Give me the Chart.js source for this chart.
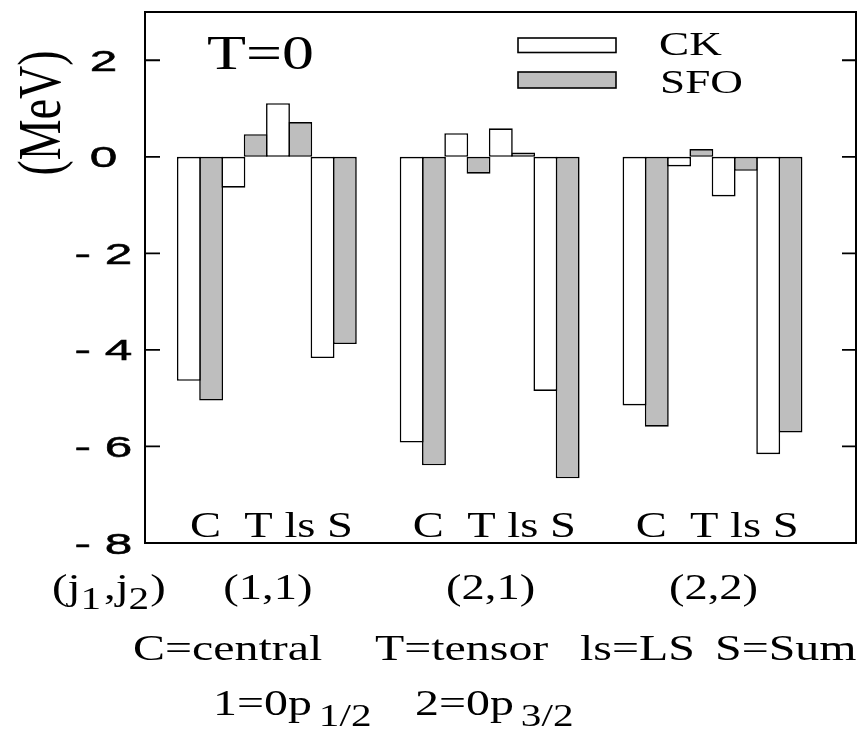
<!DOCTYPE html>
<html>
<head>
<meta charset="utf-8">
<script src="https://cdn.jsdelivr.net/npm/chart.js@4"></script>
<style>
  html, body { margin: 0; padding: 0; background: #fff; }
  #wrap { width: 859px; height: 730px; }
</style>
</head>
<body>
<div id="wrap"><canvas id="c" width="859" height="730"></canvas></div>
<script>
// Orbit pairs (j1,j2) and the interaction terms shown for each pair
const groupLabels = ['(1,1)', '(2,1)', '(2,2)'];
const termLabels = ['C', 'T', 'ls', 'S'];

// Matrix elements in MeV, four terms per orbit pair
const ckValues  = [-4.64, -0.64, 1.11, -4.17,   -5.92, 0.49, 0.59, -4.85,   -5.15, -0.20, -0.82, -6.16];
const sfoValues = [-5.05,  0.47, 0.72, -3.88,   -6.39, -0.35, 0.09, -6.66,  -5.59,  0.16, -0.29, -5.71];

// Vertical axis ticks
const yTickValues = [-8, -6, -4, -2, 0, 2];
const yTickLabels = ['- 8', '- 6', '- 4', '- 2', '0', '2'];

const SERIF = '"Liberation Serif", "Times New Roman", serif';
const SANS = '"Liberation Sans", Arial, sans-serif';
const SX = 1.33;      // horizontal widening of the serif lettering
const SX_TICK = 1.65; // wider sans digits on the axis

// one slot per term, an empty slot between orbit pairs
const slotOf = k => Math.floor(k / termLabels.length) * (termLabels.length + 1) + (k % termLabels.length);
const toPoints = vals => vals.map((v, k) => ({ x: slotOf(k), y: v }));

function wideText(ctx, str, x, y, font, sx, align, rot, ink) {
  ctx.save();
  ctx.translate(x, y);
  ctx.scale(sx, 1);
  if (rot) ctx.rotate(rot);
  ctx.font = font;
  ctx.textAlign = align || 'left';
  ctx.textBaseline = 'alphabetic';
  ctx.fillStyle = '#000';
  ctx.fillText(str, 0, 0);
  if (ink) {
    ctx.strokeStyle = '#000';
    ctx.lineWidth = ink;
    ctx.strokeText(str, 0, 0);
  }
  ctx.restore();
}

// draws runs of text (with sub-scripts) one after another
function runText(ctx, runs, x, y, sx) {
  let cx = x;
  runs.forEach(r => {
    ctx.save();
    ctx.font = r.font;
    const w = ctx.measureText(r.t).width * sx;
    ctx.restore();
    wideText(ctx, r.t, cx, y + (r.dy || 0), r.font, sx, 'left');
    cx += w + (r.gap || 0);
  });
}

const decor = {
  id: 'decor',
  afterDatasetsDraw(chart) {
    const { ctx, chartArea: a, scales: { x, y } } = chart;
    ctx.save();
    ctx.strokeStyle = '#000';
    ctx.fillStyle = '#000';
    ctx.lineWidth = 2;
    ctx.strokeRect(a.left, a.top, a.right - a.left, a.bottom - a.top);

    // inward ticks on both vertical axes, labels on the left
    ctx.lineWidth = 1.8;
    yTickValues.forEach((v, i) => {
      const py = y.getPixelForValue(v);
      ctx.beginPath();
      ctx.moveTo(a.left, py); ctx.lineTo(a.left + 15, py);
      ctx.moveTo(a.right - 14, py); ctx.lineTo(a.right, py);
      ctx.stroke();
      wideText(ctx, yTickLabels[i], 103.5, py + 10.5, '30px ' + SANS, SX_TICK, 'center', 0, 0.5);
    });

    // axis title
    wideText(ctx, '(MeV)', 60, 113, '46px ' + SERIF, SX, 'center', -Math.PI / 2);

    // panel tag
    wideText(ctx, 'T=0', 207, 69, '48px ' + SERIF, SX, 'left');

    // legend
    const ds = chart.data.datasets;
    ctx.lineWidth = 1.6;
    ctx.fillStyle = ds[0].backgroundColor;
    ctx.fillRect(518, 38, 98, 14.5);
    ctx.strokeRect(518, 38, 98, 14.5);
    ctx.fillStyle = ds[1].backgroundColor;
    ctx.fillRect(518, 72, 98, 16);
    ctx.strokeRect(518, 72, 98, 16);
    wideText(ctx, ds[0].label, 659, 55, '34px ' + SERIF, SX, 'left');
    wideText(ctx, ds[1].label, 660, 92.5, '34px ' + SERIF, SX, 'left');

    // term letters inside the frame and orbit pair labels below it
    const n = termLabels.length;
    groupLabels.forEach((g, gi) => {
      const first = x.getPixelForValue(gi * (n + 1));
      wideText(ctx, termLabels.join('  ').replace('T  ls  S', 'T ls S'), first - 10, 537, '35px ' + SERIF, SX, 'left');
      const mid = x.getPixelForValue(gi * (n + 1) + (n - 1) / 2);
      wideText(ctx, g, mid + 1, 599, '35px ' + SERIF, SX, 'center');
    });

    const f = '35px ' + SERIF, fs = '31px ' + SERIF;
    runText(ctx, [
      { t: '(j', font: f }, { t: '1', font: fs, dy: 10, gap: 3 },
      { t: ',j', font: f }, { t: '2', font: fs, dy: 10, gap: 1 },
      { t: ')', font: f }
    ], 52, 599, SX);

    // key to the abbreviations
    const k = '36px ' + SERIF;
    wideText(ctx, 'C=central', 133, 660, k, SX, 'left');
    wideText(ctx, 'T=tensor', 375, 660, k, SX, 'left');
    wideText(ctx, 'ls=LS', 580, 660, k, SX, 'left');
    wideText(ctx, 'S=Sum', 715, 660, k, SX, 'left');
    const ks = '31px ' + SERIF;
    runText(ctx, [{ t: '1=0p', font: k, gap: 7 }, { t: '1/2', font: ks, dy: 11 }], 213, 715, SX);
    runText(ctx, [{ t: '2=0p', font: k, gap: 7 }, { t: '3/2', font: ks, dy: 11 }], 415, 715, SX);
    ctx.restore();
  }
};

const BW = 1.6;
const barStyle = {
  borderColor: '#000',
  borderWidth: BW,
  borderSkipped: false,
  inflateAmount: 0,
  categoryPercentage: 1,
  barPercentage: 1.072
};

new Chart(document.getElementById('c'), {
  type: 'bar',
  data: {
    datasets: [
      Object.assign({ label: 'CK', data: toPoints(ckValues), backgroundColor: '#ffffff' }, barStyle),
      Object.assign({ label: 'SFO', data: toPoints(sfoValues), backgroundColor: '#bebebe' }, barStyle)
    ]
  },
  options: {
    responsive: false,
    devicePixelRatio: 1,
    animation: false,
    layout: { padding: { left: 145, right: 3, top: 12, bottom: 187 } },
    scales: {
      x: { type: 'linear', min: -1.234, max: 14.72, offset: false, display: false, ticks: { stepSize: 5 } },
      y: { type: 'linear', min: -8, max: 3, display: false }
    },
    plugins: { legend: { display: false }, tooltip: { enabled: false } }
  },
  plugins: [decor]
});
</script>
</body>
</html>
